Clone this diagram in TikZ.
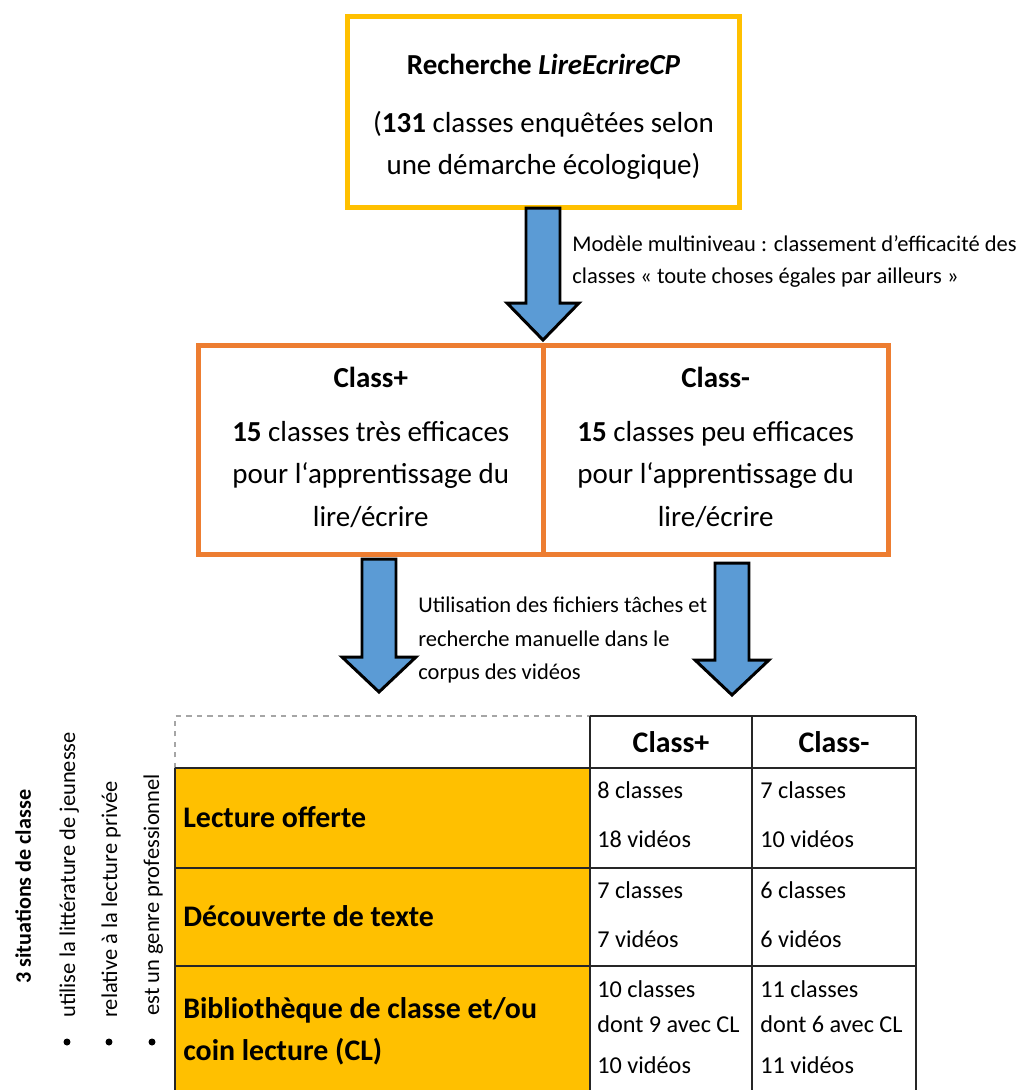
\documentclass[tikz,border=0pt]{standalone}
\usepackage{fontspec}
\setmainfont{Carlito}
\usepackage{xcolor}
\usepackage{tikz}
\usetikzlibrary{positioning,calc}
\definecolor{gold}{HTML}{FFC000}
\definecolor{tangerine}{HTML}{ED7D31}
\definecolor{steel}{HTML}{5B9BD5}
\tikzset{
   pixels/.style={x=0.02cm,
   y=-0.02cm,
   line join=miter},
 research/.style={rectangle,draw=gold,line width=2.8pt,outer sep=0pt,
   minimum width=7.84cm,minimum height=3.82cm,align=center,
   font=\fontsize{16.5}{24}\selectfont},
 group/.style={rectangle,draw=tangerine,line width=2.8pt,outer sep=0pt,
   minimum width=6.9cm,minimum height=4.18cm,align=center,
   font=\fontsize{16.5}{24}\selectfont},
 bigarrow/.style={draw=black,fill=steel,line width=1.7pt},
 note/.style={anchor=north west,align=left,inner sep=0pt,
   font=\fontsize{12.8}{18.2}\selectfont},
 rowhead/.style={anchor=base west,inner sep=0pt,
   font=\bfseries\fontsize{17}{20}\selectfont},
 colhead/.style={inner sep=0pt,font=\bfseries\fontsize{17}{20}\selectfont},
 cell/.style={anchor=base west,inner sep=0pt,font=\fontsize{13.8}{16}\selectfont},
 rule/.style={draw=black!85,line width=0.8pt},
 dashrule/.style={draw=black!35,line width=0.6pt,dashed},
 side/.style={rotate=90,anchor=base west,inner sep=0pt,
   font=\fontsize{12.8}{15}\selectfont},
 dot/.style={circle,fill=black,inner sep=0pt,minimum size=0.14cm}
 }
\begin{document}
\begin{tikzpicture}[pixels]
      \useasboundingbox (0,0) rectangle (1022,1090);
      % boxes
      \node[research] (research) at (543.5,112)
        {\rule{0pt}{17pt}\textbf{Recherche \textit{LireEcrireCP}}\\[9pt]
         (\textbf{131} classes enquêtées selon\\ une démarche écologique)};
      \node[group] (plus) at (370.75,450)
        {\textbf{Class+}\\[7pt] \textbf{15} classes très efficaces\\
         pour l‘apprentissage du\\ lire/écrire\rule[-4pt]{0pt}{4pt}};
      \node[group, right=0pt of plus] (minus)
        {\textbf{Class-}\\[7pt] \textbf{15} classes peu efficaces\\
         pour l‘apprentissage du\\ lire/écrire\rule[-4pt]{0pt}{4pt}};
      % block arrows
      \draw[bigarrow] (526,208) -- (526,303) -- (507,303) -- (543,340)
        -- (579,303) -- (560,303) -- (560,208) -- cycle;
      \draw[bigarrow] (362,559) -- (362,657) -- (342,657) -- (379,692)
        -- (416,657) -- (396,657) -- (396,559) -- cycle;
      \draw[bigarrow] (715,563) -- (715,660) -- (695,660) -- (732,695)
        -- (769,660) -- (749,660) -- (749,563) -- cycle;
      \node[note] (model) at (572,235)
        {Modèle multiniveau : classement d’efficacité des\\
         classes « toute choses égales par ailleurs »};
      \node[note,font=\fontsize{12.8}{19}\selectfont] (usage) at (418,597)
        {Utilisation des fichiers tâches et\\
         recherche manuelle dans le\\ corpus des vidéos};
      % table
      \fill[gold] (175,768) rectangle (590,1090);
      \draw[dashrule] (175,768) -- (175,716) -- (590,716);
      \draw[rule] (590,716) -- (916,716);
      \foreach \y in {768,868,966}
        \draw[rule] (175,\y) -- (916,\y);
      \foreach \x in {590,752,916}
        \draw[rule] (\x,716) -- (\x,1090);
      \draw[rule] (175,768) -- (175,1090);
      \node[colhead] (hplus) at (671,742) {Class+};
      \node[colhead] (hminus) at (834,742) {Class-};
      \node[rowhead] (offerte) at (183,827) {Lecture offerte};
      \node[rowhead] (texte) at (183,926) {Découverte de texte};
      \node[rowhead] (biblio) at (183,1018) {Bibliothèque de classe et/ou};
      \node[rowhead] (coin) at (183,1060) {coin lecture (CL)};
      \node[cell] (p1a) at (597,798) {8 classes};
      \node[cell] (p1b) at (597,847) {18 vidéos};
      \node[cell] (p2a) at (597,898) {7 classes};
      \node[cell] (p2b) at (597,947) {7 vidéos};
      \node[cell] (p3a) at (597,997) {10 classes};
      \node[cell] (p3b) at (597,1032) {dont 9 avec CL};
      \node[cell] (p3c) at (597,1073) {10 vidéos};
      \node[cell] (m1a) at (760,798) {7 classes};
      \node[cell] (m1b) at (760,847) {10 vidéos};
      \node[cell] (m2a) at (760,898) {6 classes};
      \node[cell] (m2b) at (760,947) {6 vidéos};
      \node[cell] (m3a) at (760,997) {11 classes};
      \node[cell] (m3b) at (760,1032) {dont 6 avec CL};
      \node[cell] (m3c) at (760,1073) {11 vidéos};
      % side list
      \node[side,font=\bfseries\fontsize{12.6}{15}\selectfont] (situations) at (31,984)
        {3 situations de classe};
      \node[side] (jeunesse) at (75,1018) {utilise la littérature de jeunesse};
      \node[side] (privee) at (117,1018) {relative à la lecture privée};
      \node[side] (metier) at (159,1016) {est un genre professionnel};
      \node[dot] (b1) at (67,1042) {};
      \node[dot] (b2) at (109,1042) {};
      \node[dot] (b3) at (152,1042) {};
    \end{tikzpicture}
\end{document}
